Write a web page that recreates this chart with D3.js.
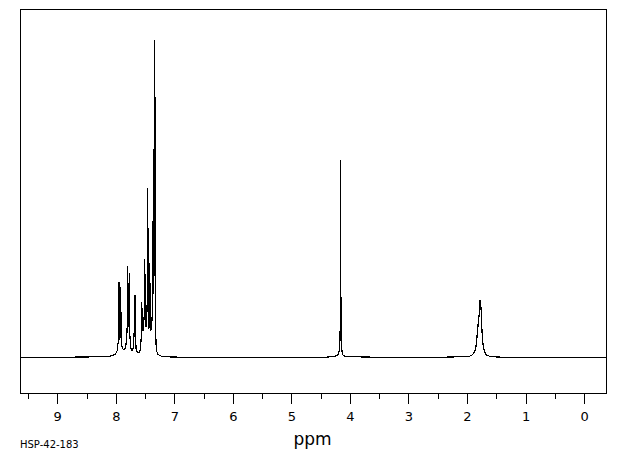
<!DOCTYPE html>
<html>
<head>
<meta charset="utf-8">
<script src="https://cdn.jsdelivr.net/npm/d3@7"></script>
<style>
  html, body { margin: 0; padding: 0; background: #fff; }
  svg { display: block; }
  text { font-family: "DejaVu Sans", sans-serif; fill: #000; }
</style>
</head>
<body>
<svg id="chart" width="620" height="455"></svg>
<script>
// ---- data ----
const majorTicks = [9, 8, 7, 6, 5, 4, 3, 2, 1, 0];
const minorTicks = [9.5, 8.5, 7.5, 6.5, 5.5, 4.5, 3.5, 2.5, 1.5, 0.5];
const xLabel = "ppm";
const sampleId = "HSP-42-183";
// chemical shift (ppm) of each traced point
const shiftPpm = [
  9.64, 9.2, 8.8, 8.4, 8.2, 8.1, 8.04, 8.0, 7.975, 7.958, 7.950, 7.946, 7.940, 7.930, 7.924, 7.917, 7.908, 7.895,
  7.87, 7.85, 7.83, 7.812, 7.800, 7.795, 7.787, 7.778, 7.770, 7.762, 7.745, 7.725, 7.700, 7.688, 7.678, 7.673,
  7.666, 7.650, 7.625, 7.600, 7.580, 7.566, 7.560, 7.555, 7.548, 7.535, 7.522, 7.512, 7.504, 7.496, 7.485, 7.472,
  7.462, 7.453, 7.446, 7.435, 7.426, 7.419, 7.412, 7.400, 7.388, 7.376, 7.368, 7.360, 7.352, 7.347, 7.343, 7.338,
  7.335, 7.331, 7.324, 7.312, 7.298, 7.28, 7.25, 7.20, 7.10, 6.9, 6.5, 6.0, 5.5, 5.0, 4.6, 4.4, 4.30, 4.24, 4.20,
  4.180, 4.170, 4.163, 4.160, 4.157, 4.152, 4.148, 4.142, 4.130, 4.110, 4.08, 4.02, 3.95, 3.85, 3.6, 3.2, 2.8, 2.4,
  2.2, 2.05, 1.96, 1.92, 1.89, 1.865, 1.848, 1.835, 1.825, 1.810, 1.795, 1.782, 1.776, 1.770, 1.760, 1.752, 1.745,
  1.738, 1.728, 1.715, 1.700, 1.680, 1.660, 1.630, 1.59, 1.52, 1.40, 1.2, 0.8, 0.4, 0.0, -0.38
];
// relative intensity (tallest line = 100) of each traced point
const intensity = [
  0.0, 0.0, 0.1, 0.2, 0.3, 0.4, 0.7, 1.2, 2.2, 5.0, 12.0, 23.8, 7.0, 5.5, 9.0, 22.3, 7.5, 3.5,
  2.4, 2.4, 3.3, 6.5, 12.0, 28.8, 12.0, 9.5, 26.6, 8.0, 3.0, 2.2, 3.0, 7.0, 12.0, 19.7,
  6.5, 2.2, 1.6, 1.6, 2.6, 6.0, 10.0, 17.6, 9.5, 8.5, 11.0, 14.0, 31.0, 11.0, 9.5, 12.0,
  18.0, 53.5, 13.0, 9.0, 12.0, 29.8, 10.0, 8.5, 9.5, 14.0, 22.0, 49.6, 20.0, 28.0, 100.0, 38.0,
  45.0, 82.1, 14.0, 4.0, 1.8, 1.0, 0.6, 0.3, 0.2, 0.1, 0.0, 0.1, 0.0, 0.0, 0.1, 0.1, 0.3, 0.5, 1.0,
  2.5, 5.5, 14.0, 62.2, 19.0, 19.0, 8.0, 3.0, 1.2, 0.6, 0.4, 0.3, 0.2, 0.2, 0.1, 0.1, 0.0, 0.1,
  0.2, 0.3, 0.4, 0.7, 1.2, 2.0, 3.3, 5.0, 7.5, 10.5, 13.0, 16.0, 18.1, 17.6, 15.5, 12.0, 9.0,
  6.5, 4.5, 2.8, 1.8, 1.1, 0.7, 0.5, 0.3, 0.2, 0.1, 0.1, 0.0, 0.0, 0.0, 0.0
];

// ---- layout ----
const frame = { left: 20, top: 9, right: 606.5, bottom: 393 };
const svg = d3.select("#chart");

const x = d3.scaleLinear().domain([9.636, -0.383]).range([frame.left, frame.right]);
const y = d3.scaleLinear().domain([-11.18, 109.76]).range([frame.bottom, frame.top]);

svg.append("defs").append("clipPath").attr("id", "clip")
  .append("rect")
  .attr("x", frame.left).attr("y", frame.top)
  .attr("width", frame.right - frame.left).attr("height", frame.bottom - frame.top);

const points = shiftPpm.map((p, i) => [p, intensity[i]]);
const line = d3.line().x(d => x(d[0])).y(d => y(d[1]));

svg.append("path")
  .datum(points)
  .attr("clip-path", "url(#clip)")
  .attr("fill", "none")
  .attr("stroke", "#000")
  .attr("stroke-width", 1.2)
  .attr("stroke-linejoin", "miter")
  .attr("shape-rendering", "crispEdges")
  .attr("d", line);

// frame
svg.append("rect")
  .attr("x", frame.left + 0.5).attr("y", frame.top + 0.5)
  .attr("width", frame.right - frame.left - 0.5).attr("height", frame.bottom - frame.top)
  .attr("fill", "none").attr("stroke", "#000").attr("stroke-width", 1)
  .attr("shape-rendering", "crispEdges");

// axes
const axisMajor = d3.axisBottom(x).tickValues(majorTicks).tickSize(10).tickPadding(8)
  .tickFormat(d3.format("d"));
const gMajor = svg.append("g").attr("transform", `translate(0,${frame.bottom + 0.5})`).call(axisMajor);
gMajor.select(".domain").remove();
gMajor.selectAll(".tick line").attr("stroke", "#000").attr("shape-rendering", "crispEdges");
gMajor.selectAll(".tick text").attr("font-size", 13).attr("font-family", "DejaVu Sans, sans-serif").attr("fill", "#000");

const axisMinor = d3.axisBottom(x).tickValues(minorTicks).tickSize(5).tickFormat("");
const gMinor = svg.append("g").attr("transform", `translate(0,${frame.bottom + 0.5})`).call(axisMinor);
gMinor.select(".domain").remove();
gMinor.selectAll(".tick line").attr("stroke", "#000").attr("shape-rendering", "crispEdges");

svg.append("text")
  .attr("x", 312.5).attr("y", 445)
  .attr("text-anchor", "middle")
  .attr("font-size", 17)
  .text(xLabel);

svg.append("text")
  .attr("x", 20).attr("y", 448)
  .attr("font-size", 10)
  .text(sampleId);
</script>
</body>
</html>
